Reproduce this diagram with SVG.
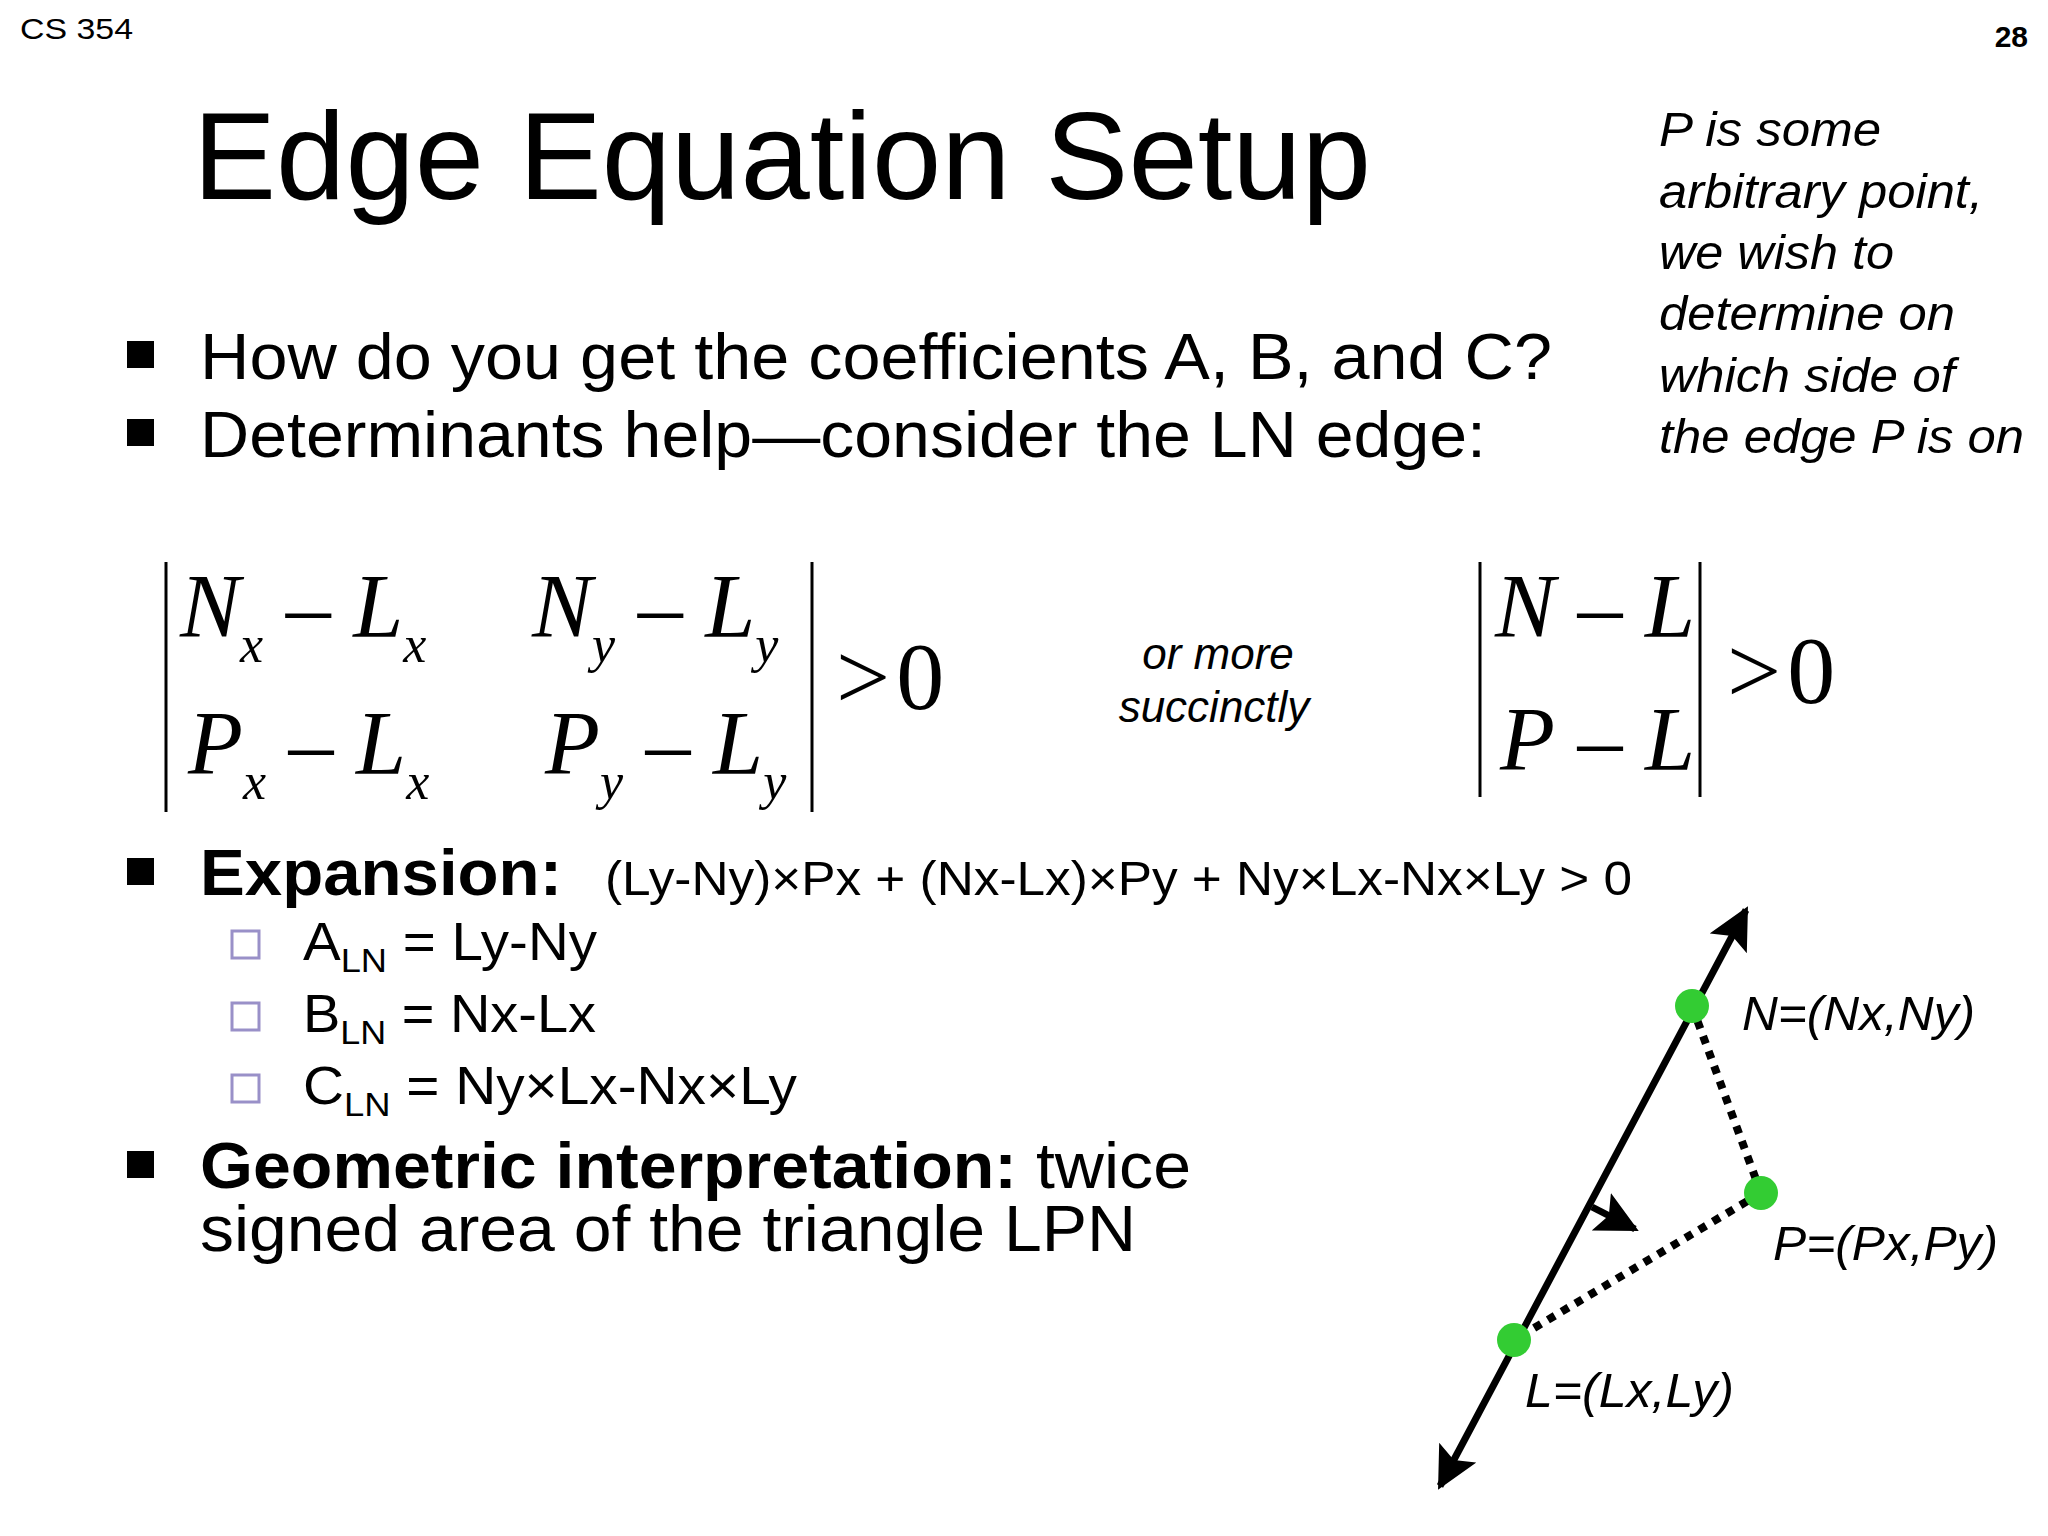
<svg xmlns="http://www.w3.org/2000/svg" width="2048" height="1536" viewBox="0 0 2048 1536">
<style>
.s{font-family:"Liberation Sans",Arial,sans-serif;fill:#000}
.m{font-family:"Liberation Serif","Times New Roman",serif;font-style:italic;fill:#000}
.u{font-family:"Liberation Serif","Times New Roman",serif;fill:#000}
.i{font-style:italic}
.bar{stroke:#000;stroke-width:3}
.dot{stroke:#000;stroke-width:8;stroke-dasharray:8 8;fill:none}
.pt{fill:#33cc33}
</style>
<defs>
<marker id="ah" viewBox="0 0 10 10" refX="9" refY="5" markerWidth="6" markerHeight="6" orient="auto-start-reverse" markerUnits="strokeWidth"><path d="M0,0 L10,5 L0,10 L2,5 Z" fill="#000"/></marker>
</defs>
<rect width="2048" height="1536" fill="#fff"/>
<text class="s" x="20" y="39" font-size="30" textLength="113" lengthAdjust="spacingAndGlyphs">CS 354</text>
<text class="s" x="2028" y="47" font-size="30" font-weight="bold" text-anchor="end">28</text>
<text class="s" x="193" y="199" font-size="124" textLength="1178" lengthAdjust="spacingAndGlyphs">Edge Equation Setup</text>
<g class="s i" font-size="48">
<text x="1659" y="146" textLength="222" lengthAdjust="spacingAndGlyphs">P is some</text>
<text x="1659" y="208" textLength="324" lengthAdjust="spacingAndGlyphs">arbitrary point,</text>
<text x="1659" y="269" textLength="235" lengthAdjust="spacingAndGlyphs">we wish to</text>
<text x="1659" y="330" textLength="296" lengthAdjust="spacingAndGlyphs">determine on</text>
<text x="1659" y="392" textLength="296" lengthAdjust="spacingAndGlyphs">which side of</text>
<text x="1659" y="453" textLength="365" lengthAdjust="spacingAndGlyphs">the edge P is on</text>
</g>
<g id="bullets">
<rect x="127" y="341" width="27" height="27"/>
<text class="s" x="200" y="379" font-size="65" textLength="1352" lengthAdjust="spacingAndGlyphs">How do you get the coefficients A, B, and C?</text>
<rect x="127" y="419" width="27" height="27"/>
<text class="s" x="200" y="457" font-size="65" textLength="1286" lengthAdjust="spacingAndGlyphs">Determinants help—consider the LN edge:</text>
</g>
<g id="matrix1">
<line class="bar" x1="166" y1="562" x2="166" y2="812"/>
<line class="bar" x1="812" y1="562" x2="812" y2="812"/>
<text class="m" x="180" y="637" font-size="90">N<tspan font-size="52" dy="25">x</tspan><tspan class="u" font-style="normal" dy="-25"> – </tspan>L<tspan font-size="52" dy="25">x</tspan></text>
<text class="m" x="532" y="637" font-size="90">N<tspan font-size="52" dy="25">y</tspan><tspan class="u" font-style="normal" dy="-25"> – </tspan>L<tspan font-size="52" dy="25">y</tspan></text>
<text class="m" x="188" y="774" font-size="90">P<tspan font-size="52" dy="25">x</tspan><tspan class="u" font-style="normal" dy="-25"> – </tspan>L<tspan font-size="52" dy="25">x</tspan></text>
<text class="m" x="545" y="774" font-size="90">P<tspan font-size="52" dy="25">y</tspan><tspan class="u" font-style="normal" dy="-25"> – </tspan>L<tspan font-size="52" dy="25">y</tspan></text>
<text class="u" x="836" y="709" font-size="96">&gt;<tspan dx="6">0</tspan></text>
</g>
<g class="s i" font-size="44" text-anchor="middle">
<text x="1218" y="669">or more</text>
<text x="1214" y="722">succinctly</text>
</g>
<g id="matrix2">
<line class="bar" x1="1480" y1="562" x2="1480" y2="797"/>
<line class="bar" x1="1700" y1="562" x2="1700" y2="797"/>
<text class="m" x="1495" y="637" font-size="90">N<tspan class="u" font-style="normal"> – </tspan>L</text>
<text class="m" x="1500" y="770" font-size="90">P<tspan class="u" font-style="normal"> – </tspan>L</text>
<text class="u" x="1727" y="703" font-size="96">&gt;<tspan dx="6">0</tspan></text>
</g>
<g id="expansion">
<rect x="127" y="858" width="27" height="27"/>
<text class="s" x="200" y="895" font-size="65" font-weight="bold" textLength="362" lengthAdjust="spacingAndGlyphs">Expansion:</text>
<text class="s" x="605" y="895" font-size="48" textLength="1027" lengthAdjust="spacingAndGlyphs">(Ly-Ny)×Px + (Nx-Lx)×Py + Ny×Lx-Nx×Ly &gt; 0</text>
<g fill="none" stroke="#9990c8" stroke-width="3">
<rect x="232" y="931" width="27" height="27"/>
<rect x="232" y="1003" width="27" height="27"/>
<rect x="232" y="1075" width="27" height="27"/>
</g>
<text class="s" x="303" y="960" font-size="53" textLength="294" lengthAdjust="spacingAndGlyphs">A<tspan font-size="34" dy="12">LN</tspan><tspan dy="-12"> = Ly-Ny</tspan></text>
<text class="s" x="303" y="1032" font-size="53" textLength="293" lengthAdjust="spacingAndGlyphs">B<tspan font-size="34" dy="12">LN</tspan><tspan dy="-12"> = Nx-Lx</tspan></text>
<text class="s" x="303" y="1104" font-size="53" textLength="494" lengthAdjust="spacingAndGlyphs">C<tspan font-size="34" dy="12">LN</tspan><tspan dy="-12"> = Ny×Lx-Nx×Ly</tspan></text>
</g>
<g id="geometric">
<rect x="127" y="1151" width="27" height="27"/>
<text class="s" x="200" y="1188" font-size="65" textLength="991" lengthAdjust="spacingAndGlyphs"><tspan font-weight="bold">Geometric interpretation:</tspan> twice</text>
<text class="s" x="200" y="1251" font-size="65" textLength="936" lengthAdjust="spacingAndGlyphs">signed area of the triangle LPN</text>
</g>
<g id="connectors">
<line x1="1440" y1="1486" x2="1746" y2="910" stroke="#000" stroke-width="7" marker-start="url(#ah)" marker-end="url(#ah)"/>
<line x1="1592" y1="1207" x2="1635" y2="1229" stroke="#000" stroke-width="7" marker-end="url(#ah)"/>
<line class="dot" x1="1692" y1="1006" x2="1761" y2="1193"/>
<line class="dot" x1="1761" y1="1193" x2="1514" y2="1340"/>
</g>
<g id="N"><circle class="pt" cx="1692" cy="1006" r="17"/><text class="s i" x="1742" y="1030" font-size="49" textLength="233" lengthAdjust="spacingAndGlyphs">N=(Nx,Ny)</text></g>
<g id="P"><circle class="pt" cx="1761" cy="1193" r="17"/><text class="s i" x="1773" y="1260" font-size="49" textLength="225" lengthAdjust="spacingAndGlyphs">P=(Px,Py)</text></g>
<g id="L"><circle class="pt" cx="1514" cy="1340" r="17"/><text class="s i" x="1525" y="1407" font-size="49" textLength="209" lengthAdjust="spacingAndGlyphs">L=(Lx,Ly)</text></g>
</svg>
